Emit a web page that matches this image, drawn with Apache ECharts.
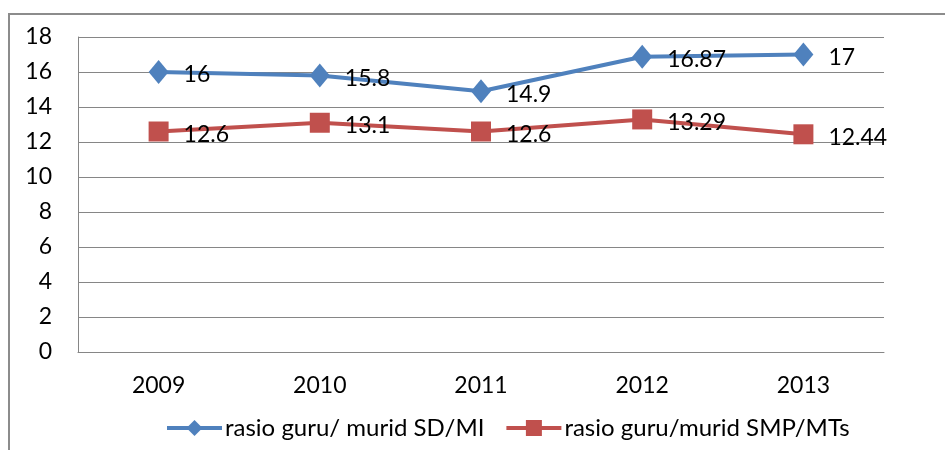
<!DOCTYPE html>
<html>
<head>
<meta charset="utf-8">
<script src="https://cdn.jsdelivr.net/npm/echarts@6/dist/echarts.min.js"></script>
<style>
  html, body { margin: 0; padding: 0; background: #fff; }
  #chart { width: 945px; height: 450px; }
</style>
</head>
<body>
<div id="chart"></div>
<script>
var years = ['2009', '2010', '2011', '2012', '2013'];
var sdMi = [16, 15.8, 14.9, 16.87, 17];
var smpMts = [12.6, 13.1, 12.6, 13.29, 12.44];
var nameSd = 'rasio guru/ murid SD/MI';
var nameSmp = 'rasio guru/murid SMP/MTs';

var font = 'Lato, "Open Sans", sans-serif';
var mychart = echarts.init(document.getElementById('chart'));

var option = {
    animation: false,
    textStyle: { fontFamily: font },
    graphic: [{
        type: 'rect',
        shape: { x: 9, y: 14, width: 1000, height: 1000 },
        style: { fill: 'none', stroke: '#8c8c8c', lineWidth: 2 },
        silent: true
    }],
    grid: { left: 78, right: 61, top: 37, bottom: 98 },
    legend: {
        top: 411,
        left: 160,
        itemWidth: 55,
        itemHeight: 20,
        itemGap: 20,
        lineStyle: { width: 4 },
        textStyle: { fontSize: 24, color: '#000', fontFamily: font, padding: [0, 0, 0, -2] },
        data: [nameSd, nameSmp]
    },
    xAxis: {
        type: 'category',
        data: years,
        boundaryGap: true,
        axisLine: { lineStyle: { color: '#868686' } },
        axisTick: { show: false },
        axisLabel: { fontSize: 23, color: '#000', margin: 22 }
    },
    yAxis: {
        type: 'value',
        min: 0,
        max: 18,
        interval: 2,
        axisLine: { show: true, lineStyle: { color: '#868686' } },
        axisTick: { show: false },
        splitLine: { lineStyle: { color: '#868686' } },
        axisLabel: { fontSize: 23, color: '#000', margin: 26 }
    },
    series: [
        {
            name: nameSd,
            type: 'line',
            data: sdMi,
            symbol: 'diamond',
            symbolSize: [20, 24],
            lineStyle: { color: '#4f81bd', width: 4 },
            itemStyle: { color: '#4f81bd' },
            label: {
                show: true, position: 'right', distance: 15, offset: [0, 3],
                fontSize: 23, color: '#000'
            }
        },
        {
            name: nameSmp,
            type: 'line',
            data: smpMts,
            symbol: 'rect',
            symbolSize: 20,
            lineStyle: { color: '#c0504d', width: 4 },
            itemStyle: { color: '#c0504d' },
            label: {
                show: true, position: 'right', distance: 15, offset: [0, 3],
                fontSize: 23, color: '#000'
            }
        }
    ]
};

mychart.setOption(option);
</script>
</body>
</html>
